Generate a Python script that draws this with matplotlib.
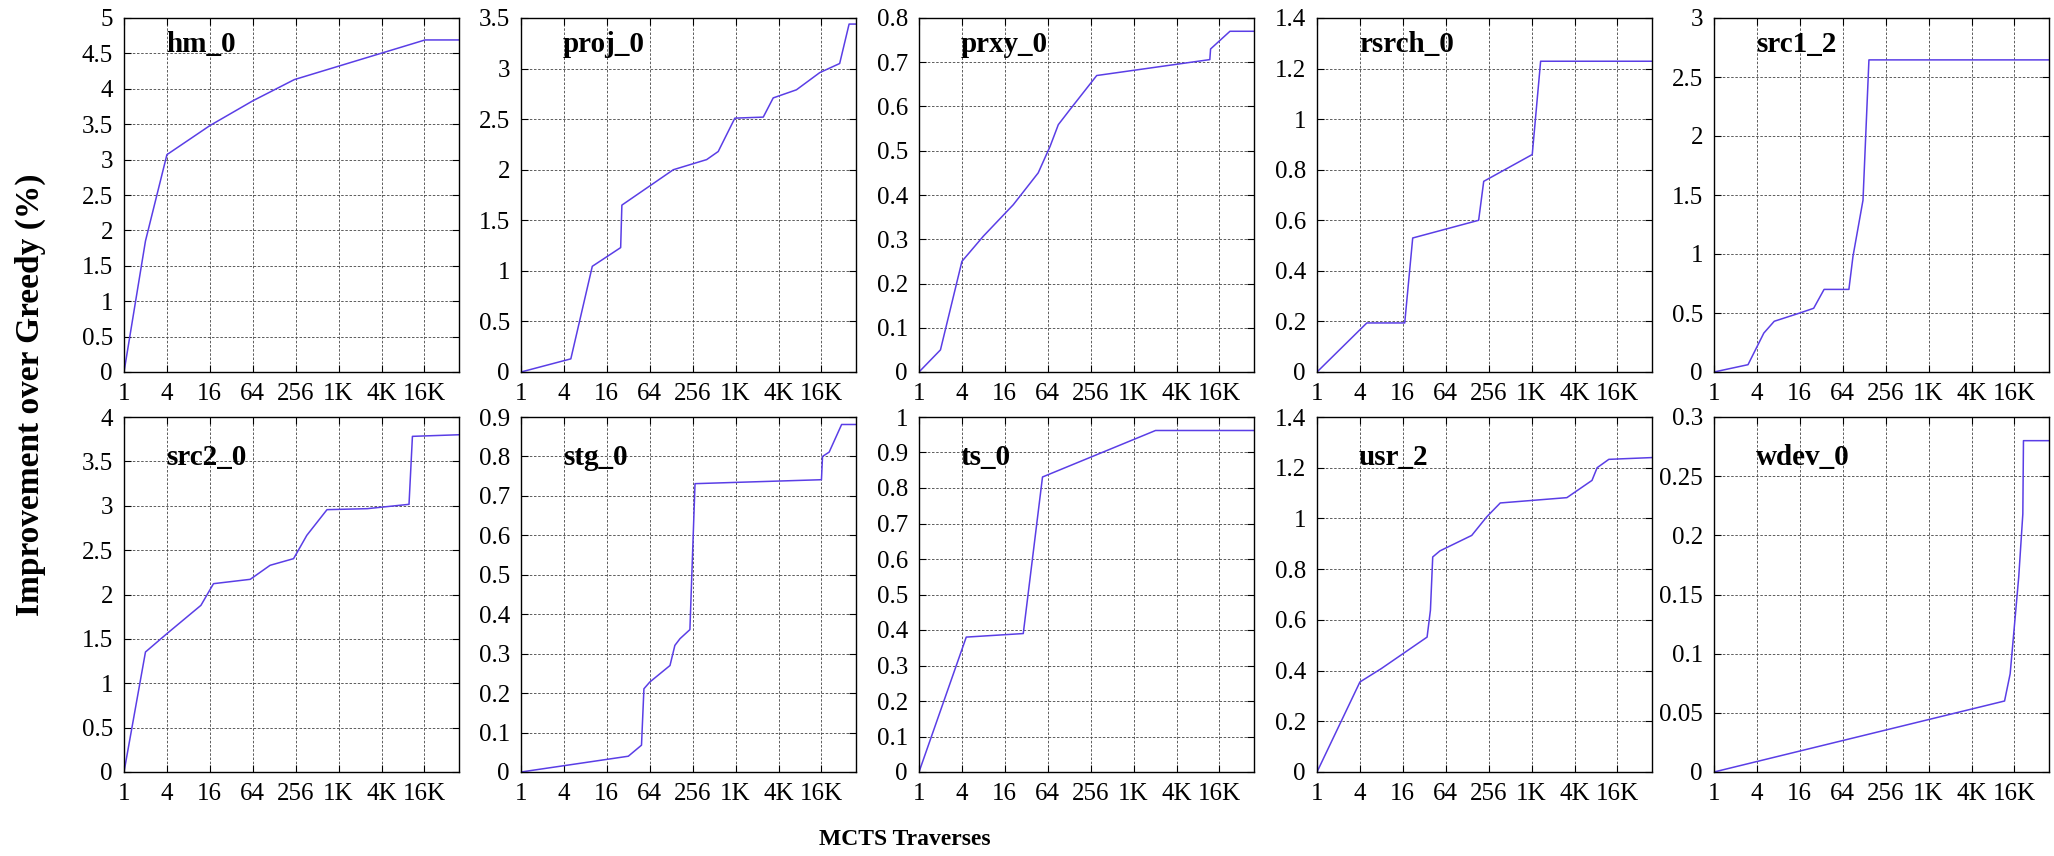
import numpy as np
import matplotlib
matplotlib.use('Agg')
import matplotlib.pyplot as plt
from matplotlib.ticker import FixedLocator, FixedFormatter, FormatStrFormatter

plt.rcParams['font.family'] = ['Liberation Serif', 'DejaVu Serif']

# 트레이스 이름 (위 줄, 아래 줄 순서)
names = ['hm_0', 'proj_0', 'prxy_0', 'rsrch_0', 'src1_2',
         'src2_0', 'stg_0', 'ts_0', 'usr_2', 'wdev_0']

# MCTS traverse 횟수와 Greedy 대비 향상률 (%)
hm_0_x = [1, 2, 4, 16, 64, 245, 16700, 50000]
hm_0_y = [0, 1.85, 3.07, 3.48, 3.83, 4.13, 4.69, 4.69]

proj_0_x = [1, 5, 10, 25, 26, 137, 402, 584, 1000, 2500, 3450, 7300, 15500, 29500, 40000, 50000]
proj_0_y = [0, 0.13, 1.045, 1.23, 1.65, 2.0, 2.1, 2.18, 2.51, 2.52, 2.71, 2.79, 2.96, 3.05, 3.44, 3.44]

prxy_0_x = [1, 2, 4, 8, 21, 47, 69, 90, 131, 311, 12000, 12300, 23000, 50000]
prxy_0_y = [0, 0.05, 0.25, 0.307, 0.378, 0.45, 0.51, 0.559, 0.593, 0.67, 0.706, 0.73, 0.77, 0.77]

rsrch_0_x = [1, 5, 17, 22, 185, 218, 1045, 1370, 50000]
rsrch_0_y = [0, 0.194, 0.194, 0.53, 0.60, 0.754, 0.86, 1.229, 1.229]

src1_2_x = [1, 3, 5, 7, 16, 25, 35, 78, 89, 123, 149, 50000]
src1_2_y = [0, 0.062, 0.33, 0.43, 0.50, 0.54, 0.70, 0.70, 0.98, 1.456, 2.645, 2.645]

src2_0_x = [1, 2, 4, 12, 18, 59, 112, 239, 367, 704, 2570, 9950, 11110, 50000]
src2_0_y = [0, 1.352, 1.559, 1.878, 2.122, 2.171, 2.329, 2.404, 2.667, 2.956, 2.967, 3.016, 3.782, 3.80]

stg_0_x = [1, 32, 49, 53, 64, 123, 144, 170, 234, 276, 16384, 16960, 21020, 31430, 50000]
stg_0_y = [0, 0.040, 0.068, 0.211, 0.228, 0.270, 0.321, 0.338, 0.361, 0.731, 0.741, 0.800, 0.811, 0.881, 0.881]

ts_0_x = [1, 4.6, 29, 54, 2080, 50000]
ts_0_y = [0, 0.38, 0.39, 0.831, 0.962, 0.962]

usr_2_x = [1, 4, 8, 35, 39, 42, 53, 148, 240, 372, 3200, 7200, 8500, 12400, 50000]
usr_2_y = [0, 0.355, 0.408, 0.532, 0.638, 0.848, 0.872, 0.933, 1.006, 1.061, 1.082, 1.150, 1.20, 1.233, 1.240]

wdev_0_x = [1, 11900, 14260, 18820, 21470, 21920, 50000]
wdev_0_y = [0, 0.060, 0.083, 0.165, 0.218, 0.280, 0.280]

xs = [hm_0_x, proj_0_x, prxy_0_x, rsrch_0_x, src1_2_x,
      src2_0_x, stg_0_x, ts_0_x, usr_2_x, wdev_0_x]
ys = [hm_0_y, proj_0_y, prxy_0_y, rsrch_0_y, src1_2_y,
      src2_0_y, stg_0_y, ts_0_y, usr_2_y, wdev_0_y]

# y축 최대값과 간격
y_max = [5, 3.5, 0.8, 1.4, 3, 4, 0.9, 1, 1.4, 0.3]
y_step = [0.5, 0.5, 0.1, 0.2, 0.5, 0.5, 0.1, 0.1, 0.2, 0.05]

x_ticks = [1, 4, 16, 64, 256, 1024, 4096, 16384]
x_tick_labels = ['1', '4', '16', '64', '256', '1K', '4K', '16K']
x_max = 50000

W, H = 2054, 856
fig = plt.figure(figsize=(W / 100, H / 100), dpi=100)

lefts = [124, 521, 919, 1317, 1714]
ax_w = 335
rows = [(18, 372), (417, 772)]
title_y = [0.925, 0.885]

for i in range(10):
    r, c = divmod(i, 5)
    top, bot = rows[r]
    ax = fig.add_axes([lefts[c] / W, 1 - bot / H, ax_w / W, (bot - top) / H])
    ax.plot(xs[i], ys[i], color='#5a3ee6', lw=1.1)
    ax.set_xscale('log', base=2)
    ax.set_xlim(1, x_max)
    ax.set_ylim(0, y_max[i])
    ax.xaxis.set_major_locator(FixedLocator(x_ticks))
    ax.xaxis.set_major_formatter(FixedFormatter(x_tick_labels))
    ax.xaxis.set_minor_locator(FixedLocator([]))
    ax.set_yticks(np.arange(0, y_max[i] + y_step[i] / 2, y_step[i]))
    ax.yaxis.set_major_formatter(FormatStrFormatter('%g'))
    ax.tick_params(direction='in', length=5, width=0.8, labelsize=18,
                   top=True, right=True, pad=8)
    ax.grid(True, color='#444444', lw=0.6, ls=(0, (3, 2)))
    for s in ax.spines.values():
        s.set_linewidth(1.0)
    ax.text(0.125, title_y[r], names[i], transform=ax.transAxes,
            fontsize=21, fontweight='bold', va='center', ha='left')

fig.text(0.0146, 0.539, 'Improvement over Greedy (%)', rotation=90,
         fontsize=24, fontweight='bold', ha='center', va='center')
fig.text(0.4406, 0.0190, 'MCTS Traverses', fontsize=17,
         fontweight='bold', ha='center', va='center')

fig.savefig('out.png', dpi=100)
